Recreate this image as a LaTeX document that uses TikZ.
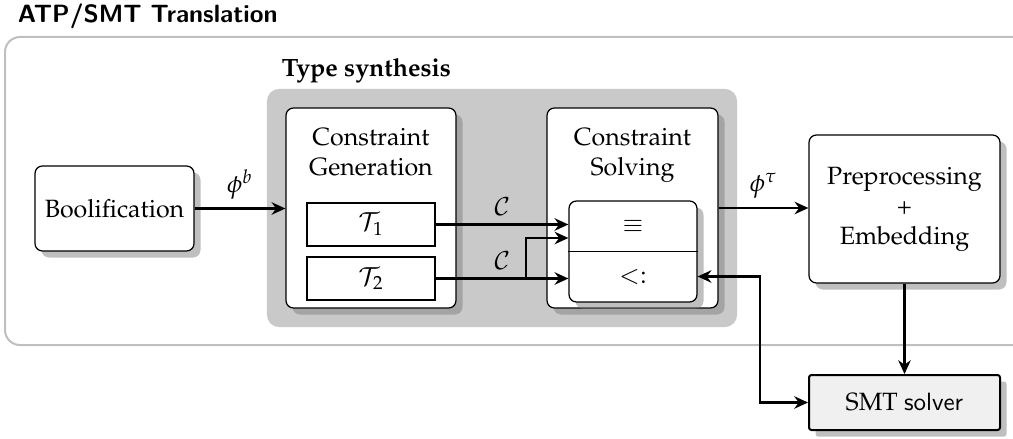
\documentclass[tikz,border=0pt]{standalone}
\usepackage[T1]{fontenc}
\usepackage{amsmath,amssymb}
\usepackage{mathpazo}
\usepackage{tikz}
\usetikzlibrary{positioning,fit,calc,shadows,backgrounds,arrows.meta}
\newcommand{\lmsans}{\fontencoding{TU}\fontfamily{lmss}\selectfont}

\begin{document}
\begin{tikzpicture}[x=0.4pt,y=-0.4pt,
  >={Stealth[length=5.5pt,width=5pt,inset=1.8pt]},
  stage/.style={draw,fill=white,rounded corners=3pt,line width=0.5pt,
    drop shadow={shadow xshift=2.6pt,shadow yshift=-2.6pt,opacity=.5,fill=black!50}},
  typebox/.style={draw,line width=0.8pt,minimum width=51.2pt,minimum height=17.2pt,inner sep=0pt},
  solver/.style={draw,fill=black!6,line width=0.8pt,rounded corners=1pt,
    minimum width=76.4pt,minimum height=22pt,
    drop shadow={shadow xshift=2.6pt,shadow yshift=-2.6pt,opacity=.5,fill=black!50}},
  flow/.style={->,line width=0.9pt}]
\useasboundingbox (0,0) rectangle (1013,439);

% titles
\node[anchor=base west,font=\lmsans\bfseries] (title) at (9,23) {ATP/SMT Translation};
\node[anchor=base west,font=\bfseries] (synlbl) at (273,77) {Type synthesis};

% stages
\node[stage,minimum width=63.6pt,minimum height=34pt] (bool) at (114.5,208.5) {Boolification};

\node[stage,minimum width=68pt,minimum height=80pt] (gen) at (371,208) {};
\node[align=center,below=4.8pt of gen.north] (gentxt) {Constraint\\Generation};
\node[typebox] (t1) at (371,224.5) {$\mathcal{T}_1$};
\node[typebox] (t2) at (371,278.5) {$\mathcal{T}_2$};

\node[stage,minimum width=68.4pt,minimum height=80pt] (solve) at (632.5,208) {};
\node[align=center,below=4.8pt of solve.north] (solvetxt) {Constraint\\Solving};
\node[stage,minimum width=51.2pt,minimum height=40.4pt] (cons) at (633,251.5) {};
\draw[line width=0.4pt] (cons.west) -- (cons.east);
\node (eq) at (633,226) {$\equiv$};
\node (sub) at (633,276.5) {$<:$};

\node[stage,minimum width=76.4pt,minimum height=59.2pt,align=center] (prep) at (904.5,209) {Preprocessing\\+\\Embedding};
\node[solver] (smt) at (904.5,402.5) {SMT {\lmsans solver}};

% background boxes
\begin{scope}[on background layer]
\draw[black!25,line width=0.8pt,rounded corners=6pt] (5,37) rectangle (1060,345);
\node[fit=(gen)(solve),inner sep=7.4pt,fill=black!21,rounded corners=5pt] (syn) {};
\end{scope}

% connectors
\coordinate (split) at (526,0);
\coordinate (eqin) at ($(cons.west)+(0,-13.5)$);
\coordinate (bend) at (760,0);

\draw[flow] (bool.east) -- node[above]{$\phi^b$} (bool.east -| gen.west);
\draw[flow] (t1.east) -- node[above]{$\mathcal{C}$} (t1.east -| cons.west);
\draw[flow] (t2.east) -- node[above]{$\mathcal{C}$} (t2.east -| cons.west);
\draw[flow] (t2.east -| split) |- (eqin);
\draw[flow] (solve.east) -- node[above]{$\phi^\tau$} (solve.east -| prep.west);
\draw[flow] (prep.south) -- (smt.north);
\draw[<->,line width=0.9pt] (sub -| cons.east) -- (sub -| bend) |- (smt.west);
\end{tikzpicture}
\end{document}
